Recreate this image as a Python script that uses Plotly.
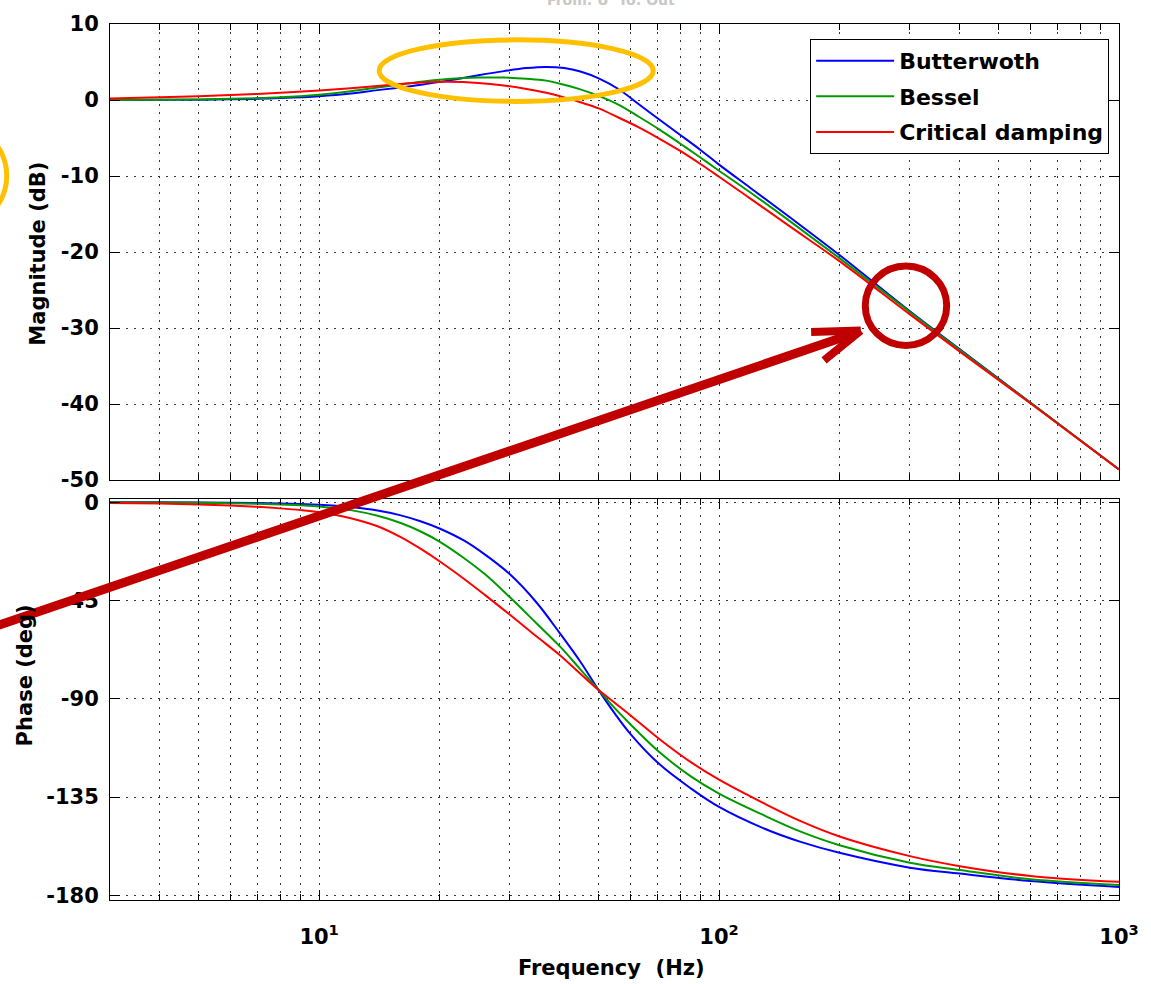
import numpy as np
import plotly.graph_objects as go

# ---------------- data ----------------
series_names = ["Butterwoth", "Bessel", "Critical damping"]
series_colors = ["#0000FF", "#009A00", "#FF0000"]

mag_freq = [3, 4, 5, 6, 7, 8, 10, 12, 14, 16, 18, 21, 25, 29, 33, 37, 41, 45, 50, 56,
            63, 71, 80, 90, 100, 120, 150, 200, 300, 400, 600, 1000]
mag_butterworth = [0.0, 0.02, 0.05, 0.1, 0.15, 0.25, 0.5, 0.85, 1.3, 1.65, 2.0, 2.55, 3.25, 3.8,
                   4.2, 4.35, 4.2, 3.75, 2.85, 1.45, -0.55, -2.6, -4.6, -6.6, -8.5, -11.6, -15.4,
                   -20.4, -27.8, -32.8, -39.8, -48.6]
mag_bessel = [0.0, 0.03, 0.08, 0.15, 0.25, 0.35, 0.7, 1.15, 1.65, 2.05, 2.4, 2.75, 2.95, 2.95,
              2.8, 2.55, 2.0, 1.4, 0.55, -0.6, -2.2, -3.9, -5.75, -7.6, -9.3, -12.2, -15.9,
              -20.8, -27.9, -32.9, -39.8, -48.6]
mag_critical = [0.2, 0.35, 0.5, 0.65, 0.8, 0.95, 1.25, 1.55, 1.85, 2.1, 2.3, 2.4, 2.25, 1.9,
                1.45, 0.95, 0.35, -0.3, -1.1, -2.3, -3.6, -5.1, -6.7, -8.45, -10.1, -13.0, -16.6,
                -21.2, -28.2, -33.1, -39.9, -48.6]

phase_freq = [3, 4, 5, 6, 7, 8, 9, 10, 12, 14, 16, 18, 20, 23, 26, 30, 35, 40, 45, 50, 55, 60,
              71, 85, 100, 130, 160, 200, 300, 400, 600, 1000]
phase_butterworth = [0, -0.05, -0.1, -0.2, -0.35, -0.55, -0.8, -1.1, -2.2, -3.8, -6.0, -8.8, -12.0,
                     -17.5, -24.0, -33.0, -46.0, -60.0, -73.0, -86.0, -97.0, -106.0, -120.0,
                     -131.0, -139.5, -149.5, -155.5, -160.5, -167.3, -170.0, -173.4, -176.1]
phase_bessel = [0, -0.1, -0.25, -0.45, -0.7, -1.0, -1.4, -1.9, -3.6, -6.2, -9.5, -13.5, -18.0,
                -25.5, -33.0, -43.5, -55.5, -66.0, -76.5, -86.0, -94.5, -101.6, -114.5, -125.5,
                -133.4, -143.5, -150.8, -157.0, -165.0, -168.4, -172.6, -175.2]
phase_critical = [-0.3, -0.6, -1.0, -1.5, -2.1, -2.8, -3.6, -4.6, -7.3, -11.0, -16.0, -21.5,
                  -27.0, -35.0, -42.5, -51.5, -61.5, -70.0, -78.5, -86.0, -92.0, -97.5, -108.5,
                  -119.0, -127.0, -138.0, -146.0, -153.0, -162.0, -166.6, -171.1, -173.8]

mag_ticks = [10, 0, -10, -20, -30, -40, -50]
phase_ticks = [0, -45, -90, -135, -180]
x_major = [10, 100, 1000]
x_major_text = ["10<sup>1</sup>", "10<sup>2</sup>", "10<sup>3</sup>"]
x_minor = [m * d for d in (1, 10, 100) for m in range(2, 10) if m * d >= 3]

# ---------------- layout geometry (pixels) ----------------
W, H = 1151, 984
L, R, T, B = 110, 25, 17, 84
PW, PH = W - L - R, H - T - B


def px(xp):
    return (xp - L) / PW


def py(yp):
    return (H - B - yp) / PH


FONT = "DejaVu Sans"
GRID = dict(showgrid=True, gridcolor="#333333", gridwidth=1, griddash="2px,6px")

fig = go.Figure()
mags = [mag_butterworth, mag_bessel, mag_critical]
phases = [phase_butterworth, phase_bessel, phase_critical]
for name, col, m, p in zip(series_names, series_colors, mags, phases):
    fig.add_trace(go.Scatter(x=mag_freq, y=m, name=name, mode="lines",
                             line=dict(color=col, width=2, shape="spline", smoothing=1.0),
                             xaxis="x", yaxis="y", legendgroup=name))
    fig.add_trace(go.Scatter(x=phase_freq, y=p, name=name, mode="lines", showlegend=False,
                             line=dict(color=col, width=2, shape="spline", smoothing=1.0),
                             xaxis="x2", yaxis="y2", legendgroup=name))

xcommon = dict(type="log", range=[np.log10(3), 3], showline=True, linecolor="black",
               linewidth=1, mirror="allticks", ticks="inside", ticklen=10, tickcolor="black",
               tickmode="array", tickvals=x_major, zeroline=False,
               minor=dict(tickmode="array", tickvals=x_minor, ticks="inside", ticklen=6,
                          tickcolor="black", **GRID),
               **GRID)
ycommon = dict(showline=True, linecolor="black", linewidth=1, mirror="allticks",
               ticks="inside", ticklen=10, tickcolor="black", zeroline=False,
               tickfont=dict(family=FONT, size=21, color="black", weight="bold"),
               ticklabelstandoff=6, **GRID)

top_dom = [py(476.7), 1.0]
bot_dom = [0.0, py(496)]

fig.update_layout(
    width=W, height=H, autosize=False,
    margin=dict(l=L, r=R, t=T, b=B),
    paper_bgcolor="white", plot_bgcolor="white",
    font=dict(family=FONT, size=20, color="black", weight="bold"),
    xaxis=dict(anchor="y", domain=[0, 1], showticklabels=False, **xcommon),
    xaxis2=dict(anchor="y2", domain=[0, 1], ticktext=x_major_text, ticklabelstandoff=18,
                tickfont=dict(family=FONT, size=21, color="black", weight="bold"), **xcommon),
    yaxis=dict(anchor="x", domain=top_dom, range=[-50, 10], tickmode="array",
               tickvals=mag_ticks, ticktext=[str(v) for v in mag_ticks], **ycommon),
    yaxis2=dict(anchor="x2", domain=bot_dom, range=[-182.1, 1.4], tickmode="array",
                tickvals=phase_ticks, ticktext=[str(v) for v in phase_ticks], **ycommon),
    showlegend=True,
    legend=dict(x=px(815), y=py(32), xanchor="left", yanchor="top",
                bgcolor="white", bordercolor="black", borderwidth=1,
                font=dict(family=FONT, size=22, color="black", weight="bold"),
                itemwidth=78, tracegroupgap=4, traceorder="grouped"),
)

# axis titles and faint plot title
fig.add_annotation(text="Magnitude (dB)", textangle=-90, x=px(38), y=py(248),
                   xref="paper", yref="paper", showarrow=False, xanchor="center", yanchor="middle",
                   font=dict(family=FONT, size=21, color="black", weight="bold"))
fig.add_annotation(text="Phase (deg)", textangle=-90, x=px(24), y=py(674),
                   xref="paper", yref="paper", showarrow=False, xanchor="center", yanchor="middle",
                   font=dict(family=FONT, size=21, color="black", weight="bold"))
fig.add_annotation(text="Frequency\u00a0 (Hz)", x=px(615), y=py(969),
                   xref="paper", yref="paper", showarrow=False, xanchor="center", yanchor="middle",
                   font=dict(family=FONT, size=21, color="black", weight="bold"))
fig.add_annotation(text="From: U  To: Out", x=px(614), y=py(-7),
                   xref="paper", yref="paper", showarrow=False, xanchor="center", yanchor="middle",
                   font=dict(family=FONT, size=14, color="#c8c8c8"))

# ---------------- hand-drawn overlays ----------------
ORANGE = "#FFC000"
DARKRED = "#C00000"


def ellipse(cx, cy, rx, ry, color, width):
    fig.add_shape(type="circle", xref="paper", yref="paper",
                  x0=px(cx - rx), x1=px(cx + rx), y0=py(cy + ry), y1=py(cy - ry),
                  line=dict(color=color, width=width), fillcolor="rgba(0,0,0,0)", layer="above")


def seg(x0, y0, x1, y1, color, width):
    fig.add_shape(type="line", xref="paper", yref="paper",
                  x0=px(x0), y0=py(y0), x1=px(x1), y1=py(y1),
                  line=dict(color=color, width=width), layer="above")


ellipse(519, 64, 138, 31, ORANGE, 5)
ellipse(-46, 170, 52, 52, ORANGE, 5)
ellipse(911.5, 301, 41, 40, DARKRED, 7)
seg(-5, 624, 862, 328, DARKRED, 9)
seg(866, 326, 816, 327.5, DARKRED, 8)
seg(866, 326, 829, 356, DARKRED, 8)

fig.write_html("out.html",
               config={"displayModeBar": False, "responsive": False},
               post_script="document.body.style.margin='0px';document.body.style.overflow='hidden';")
